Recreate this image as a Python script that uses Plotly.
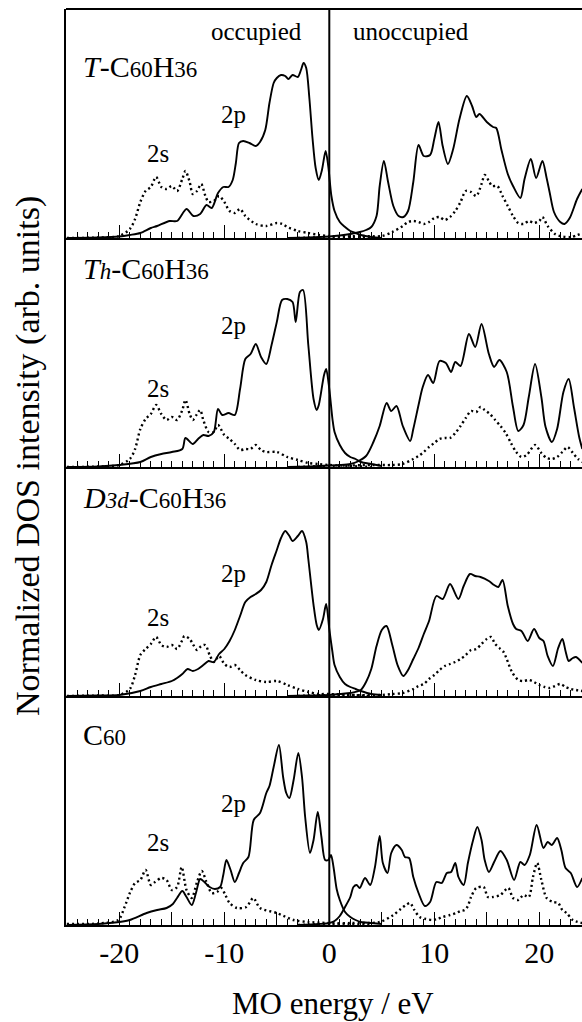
import plotly.graph_objects as go
from plotly.subplots import make_subplots

# ---------------- data (energies in eV, intensities in arb. units) ----------------
# Panel 1: T-C60H36
t_p_occ_e = [-25, -22, -20, -19, -18, -17, -16.4, -15.2, -14.5, -13.6, -12.95, -12.3, -11.7, -11.2, -10.6, -10.1, -9.6, -9.2, -8.9, -8.6, -8.2, -7.6, -7.0, -6.6, -6.1, -5.7, -5.3, -5.0, -4.6, -4.2, -3.9, -3.5, -3.0, -2.7, -2.45, -2.2, -1.9, -1.6, -1.3, -1.0, -0.7, -0.35, -0.1, 0.2, 0.5, 1.0, 1.5, 2.0, 2.5, 3.0, 4.0, 5.0]
t_p_occ_i = [0, 0.5, 1.5, 3, 5, 10, 12, 17, 17, 29, 22, 24, 33, 30, 45, 51, 51, 58, 75, 95, 97, 95, 92, 96, 108, 135, 155, 160, 163, 162, 159, 163, 161, 168, 175, 170, 140, 100, 70, 58, 68, 87, 72, 42, 27, 16, 11, 7, 5, 3, 1, 0]
t_p_unocc_e = [-4, -2, 0, 1, 2, 2.9, 3.5, 4.0, 4.5, 4.8, 5.2, 5.6, 6.1, 6.6, 7.05, 7.5, 8.0, 8.5, 9.0, 9.6, 10.0, 10.4, 10.8, 11.3, 11.8, 12.4, 13.1, 13.6, 14.0, 14.3, 15.0, 15.6, 15.9, 16.4, 17.0, 17.5, 18.2, 18.6, 19.2, 19.7, 20.3, 20.7, 21.0, 21.4, 22.0, 22.4, 22.9, 23.6, 24.1]
t_p_unocc_i = [0, 0.5, 1.5, 2.5, 4, 6, 8, 11, 22, 52, 77, 56, 32, 22, 21, 27, 56, 93, 82, 83, 99, 116, 92, 74, 89, 119, 142, 132, 121, 124, 116, 111, 110, 88, 64, 52, 40, 59, 79, 60, 77, 60, 45, 26, 16, 14, 20, 39, 49]
t_s_occ_e = [-25, -22, -20, -19, -18.5, -18, -17.5, -17, -16.5, -16, -15.5, -15, -14.5, -14, -13.7, -13.3, -13, -12.6, -12.2, -11.8, -11.5, -11, -10.5, -10, -9.5, -9, -8.5, -8, -7, -6, -5, -4.5, -4, -3, -2, -1, 0, 2, 4]
t_s_occ_i = [0, 0.5, 2, 9, 19, 36, 47, 51, 61, 51, 49, 52, 47, 59, 67, 56, 44, 47, 54, 42, 36, 37, 42, 36, 27, 25, 29, 22, 14, 12, 15, 14, 11, 7, 5, 3, 2, 1, 0]
t_s_unocc_e = [-3, 0, 3, 5, 6, 7, 7.5, 8, 8.5, 9, 9.5, 10, 10.5, 11, 11.5, 12, 12.5, 13, 13.5, 14, 14.5, 14.8, 15.2, 15.5, 16, 16.5, 17, 17.5, 18, 18.5, 19, 19.5, 20, 20.3, 20.8, 21.5, 22, 23, 24.1]
t_s_unocc_i = [0, 1, 2, 2, 6, 12, 16, 17, 16, 14, 16, 20, 21, 18, 21, 27, 36, 47, 46, 42, 54, 63, 57, 52, 52, 42, 32, 22, 15, 14, 17, 15, 17, 21, 12, 4, 2, 1, 5]

# Panel 2: Th-C60H36
th_p_occ_e = [-25, -22, -20, -18, -17, -16, -15, -14, -13.7, -13, -12.5, -12, -11.5, -11, -10.6, -10.2, -9.6, -9, -8.5, -8, -7.5, -7, -6.5, -6, -5.5, -5, -4.5, -4, -3.5, -3.2, -2.8, -2.5, -2, -1.5, -1.2, -1, -0.5, -0.3, 0, 0.3, 0.5, 1, 1.5, 2, 2.5, 3, 4, 5]
th_p_occ_i = [0, 0.5, 2, 5, 10, 13, 15, 18, 29, 23, 28, 32, 31, 35, 58, 52, 54, 52, 78, 108, 113, 123, 110, 103, 122, 145, 167, 168, 165, 145, 175, 177, 122, 68, 57, 62, 92, 98, 78, 48, 35, 22, 14, 10, 8, 5, 3, 1]
th_p_unocc_e = [-4, -2, 0, 1, 2, 2.6, 3.5, 4.2, 4.8, 5.46, 5.9, 6.4, 7.0, 7.7, 8.0, 8.5, 8.9, 9.4, 9.9, 10.5, 11.1, 11.6, 12.0, 12.5, 13.3, 13.9, 14.5, 15.2, 15.7, 16.2, 16.9, 17.5, 18.0, 18.5, 19.0, 19.6, 20.2, 20.6, 21.2, 21.7, 22.3, 22.8, 23.3, 23.8, 24.1]
th_p_unocc_i = [0, 0.5, 1.5, 2, 3, 5, 11, 25, 41, 64, 56, 61, 41, 26, 38, 62, 80, 92, 84, 106, 104, 95, 105, 101, 133, 120, 143, 113, 100, 107, 95, 60, 36, 42, 70, 103, 70, 40, 25, 38, 75, 88, 60, 30, 18]
th_s_occ_e = [-25, -22, -20, -19, -18.5, -18, -17.5, -17, -16.5, -16, -15.5, -15, -14.5, -14, -13.7, -13.3, -13, -12.6, -12.3, -12, -11.5, -11, -10.6, -10, -9.5, -9, -8.5, -8, -7.5, -7, -6.5, -6, -5, -4, -3, -2, -1, 0, 2, 4]
th_s_occ_i = [0, 0.5, 2, 8, 18, 38, 48, 53, 62, 53, 47, 50, 47, 57, 67, 53, 47, 53, 57, 47, 35, 35, 42, 32, 28, 23, 17, 18, 18, 22, 17, 15, 15, 10, 7, 4, 3, 2, 1, 0]
th_s_unocc_e = [-3, 0, 4, 6, 7, 8, 8.5, 9, 9.5, 10, 10.5, 11, 11.5, 12, 12.5, 13, 13.5, 14, 14.4, 14.8, 15.3, 15.8, 16.3, 16.8, 17.3, 17.8, 18.3, 18.8, 19.6, 20.2, 20.7, 21.2, 21.7, 22.2, 22.7, 23.2, 23.7, 24.1]
th_s_unocc_i = [0, 1, 2, 2, 3, 8, 11, 15, 20, 24, 28, 29, 29, 34, 41, 49, 56, 55, 60, 57, 53, 47, 41, 34, 24, 15, 10, 12, 22, 14, 9, 8, 10, 15, 20, 14, 8, 5]

# Panel 3: D3d-C60H36
d_p_occ_e = [-25, -22, -20, -18, -17, -16, -15, -14.5, -14, -13.5, -13, -12.5, -12, -11.5, -11, -10.5, -10, -9.5, -9, -8.5, -8, -7.5, -7, -6.5, -6, -5.5, -5, -4.6, -4.2, -3.8, -3.5, -3, -2.6, -2.2, -2, -1.5, -1.2, -1, -0.6, -0.3, 0, 0.3, 0.5, 1, 1.5, 2, 2.5, 3, 4, 5]
d_p_occ_i = [0, 0.5, 1, 5, 9, 12, 15, 18, 22, 27, 25, 27, 31, 35, 34, 42, 47, 55, 66, 80, 94, 99, 102, 106, 114, 131, 146, 158, 165, 160, 155, 160, 165, 154, 137, 91, 71, 66, 77, 92, 67, 44, 31, 19, 12, 9, 7, 5, 2, 1]
d_p_unocc_e = [-4, -2, 0, 1, 2, 3, 3.5, 4, 4.5, 5, 5.45, 6, 6.5, 7.05, 7.5, 8, 8.5, 9, 9.5, 10.2, 10.8, 11.5, 12.3, 12.8, 13.4, 13.9, 14.4, 15.2, 15.7, 16.1, 16.5, 17.0, 17.5, 17.8, 18.3, 18.9, 19.5, 20.0, 20.4, 20.8, 21.3, 21.8, 22.2, 22.5, 22.8, 23.2, 23.5, 24.1]
d_p_unocc_i = [0, 0.5, 1, 2, 3, 6, 14, 27, 50, 66, 70, 51, 31, 20, 26, 37, 48, 62, 75, 100, 97, 112, 97, 110, 122, 120, 119, 115, 111, 109, 116, 90, 72, 67, 65, 55, 67, 58, 55, 40, 30, 48, 57, 45, 35, 38, 39, 33]
d_s_occ_e = [-25, -22, -20, -19, -18.5, -18, -17.5, -17, -16.5, -16, -15.5, -15, -14.5, -14, -13.8, -13.3, -13, -12.6, -12.2, -11.8, -11.4, -11, -10.5, -10, -9.5, -9, -8.5, -8, -7, -6, -5, -4, -3, -2, -1, 0, 2, 4]
d_s_occ_i = [0, 0.5, 1, 7, 21, 41, 47, 52, 59, 51, 49, 51, 47, 56, 60, 57, 52, 46, 50, 51, 41, 34, 40, 32, 29, 31, 26, 21, 16, 14, 15, 11, 7, 4, 2, 2, 1, 0]
d_s_unocc_e = [-3, 0, 5, 6, 7, 8, 8.5, 9, 9.5, 10, 10.5, 11, 11.5, 12, 12.5, 13, 13.5, 14, 14.5, 15, 15.4, 15.8, 16.2, 16.6, 16.9, 17.4, 18, 18.5, 19, 19.5, 20, 20.5, 21, 21.5, 22, 22.5, 23, 23.5, 24.1]
d_s_unocc_i = [0, 1, 1, 2, 3, 7, 10, 12, 17, 21, 26, 30, 32, 34, 37, 41, 46, 47, 52, 57, 59, 52, 48, 44, 37, 24, 16, 15, 16, 14, 11, 9, 8, 10, 12, 9, 7, 6, 5]

# Panel 4: C60
c_p_occ_e = [-25, -22, -20, -19, -17.4, -16.4, -15.5, -14.9, -14.5, -14.0, -13.6, -13.1, -12.7, -12.3, -11.9, -11.4, -10.9, -10.4, -10.1, -9.8, -9.4, -9.0, -8.6, -8.2, -7.7, -7.2, -6.6, -6.0, -5.7, -5.3, -4.8, -4.4, -4.1, -3.8, -3.4, -2.95, -2.6, -2.3, -1.84, -1.5, -1.1, -0.75, -0.4, -0.1, 0.16, 0.4, 0.7, 1.0, 1.5, 2.0, 2.5, 3.0, 4.0, 5.0]
c_p_occ_i = [0, 1, 3, 5, 12, 15, 17, 21, 27, 34, 28, 20, 32, 46, 43, 38, 36, 38, 50, 65, 55, 43, 52, 62, 68, 105, 112, 132, 139, 158, 180, 148, 132, 127, 145, 172, 148, 108, 72, 85, 113, 88, 65, 65, 70, 58, 36, 25, 13, 8, 5, 3, 2, 1]
c_p_unocc_e = [-3, -1, 0, 0.5, 1.0, 1.5, 2.0, 2.3, 2.6, 2.9, 3.4, 3.9, 4.35, 4.8, 5.1, 5.55, 5.9, 6.4, 6.9, 7.2, 7.6, 8.0, 8.5, 9.1, 9.6, 10.2, 10.7, 11.2, 11.6, 12.0, 12.3, 12.8, 13.2, 13.7, 14.1, 14.5, 14.8, 15.2, 15.7, 16.3, 16.9, 17.6, 18.2, 18.6, 19.1, 19.75, 20.4, 20.8, 21.2, 21.7, 22.1, 22.5, 23.0, 23.6, 24.1]
c_p_unocc_i = [0, 1, 2, 4, 9, 18, 28, 38, 40, 37, 47, 40, 58, 89, 62, 52, 72, 80, 75, 68, 67, 48, 32, 19, 23, 43, 42, 52, 53, 62, 48, 40, 62, 85, 98, 85, 65, 53, 63, 74, 65, 45, 63, 60, 70, 100, 77, 83, 80, 87, 75, 57, 52, 38, 47]
c_s_occ_e = [-25, -22, -20.1, -19.5, -19.0, -18.5, -18.0, -17.5, -17.0, -16.6, -16.0, -15.5, -15.0, -14.5, -14.06, -13.6, -13.1, -12.6, -12.15, -11.7, -11.2, -10.7, -10.3, -9.9, -9.5, -8.8, -7.9, -7.24, -6.6, -5.0, -3.4, -2, -0.2, 2, 4]
c_s_occ_i = [1, 1.5, 5, 18, 32, 42, 45, 55, 40, 43, 47, 45, 35, 38, 58, 35, 27, 43, 54, 43, 32, 33, 37, 30, 22, 17, 18, 27, 17, 12, 5, 3, 2, 1, 0]
c_s_unocc_e = [-3, 0, 2, 4.8, 6.1, 6.8, 7.3, 7.7, 8.1, 8.6, 9.2, 9.8, 10.3, 10.8, 11.5, 12.1, 12.5, 12.9, 13.2, 13.5, 14.0, 14.7, 15.1, 15.6, 16.3, 17.05, 17.5, 18.0, 18.5, 19.0, 19.4, 19.8, 20.2, 20.7, 21.3, 21.8, 22.2, 22.6, 23.2, 24.1]
c_s_unocc_i = [0, 1, 2, 3, 10, 16, 20, 22, 15, 8, 6, 5, 6, 8, 10, 12, 14, 15, 19, 28, 37, 38, 28, 28, 30, 37, 27, 25, 30, 28, 48, 62, 45, 27, 23, 22, 15, 12, 5, 2]

major_ticks = [-20, -15, -10, -5, 0, 5, 10, 15, 20]
major_labels = ["-20", "", "-10", "", "0", "", "10", "", "20"]

panels = [
    dict(p_occ=(t_p_occ_e, t_p_occ_i), p_un=(t_p_unocc_e, t_p_unocc_i),
         s_occ=(t_s_occ_e, t_s_occ_i), s_un=(t_s_unocc_e, t_s_unocc_i)),
    dict(p_occ=(th_p_occ_e, th_p_occ_i), p_un=(th_p_unocc_e, th_p_unocc_i),
         s_occ=(th_s_occ_e, th_s_occ_i), s_un=(th_s_unocc_e, th_s_unocc_i)),
    dict(p_occ=(d_p_occ_e, d_p_occ_i), p_un=(d_p_unocc_e, d_p_unocc_i),
         s_occ=(d_s_occ_e, d_s_occ_i), s_un=(d_s_unocc_e, d_s_unocc_i)),
    dict(p_occ=(c_p_occ_e, c_p_occ_i), p_un=(c_p_unocc_e, c_p_unocc_i),
         s_occ=(c_s_occ_e, c_s_occ_i), s_un=(c_s_unocc_e, c_s_unocc_i)),
]

SERIF = "Liberation Serif"
W, H = 582, 1022
L, R, T, B = 66, 0, 9, 97

fig = make_subplots(rows=4, cols=1, vertical_spacing=0)

for r, pnl in enumerate(panels, start=1):
    for key in ("s_occ", "s_un"):
        e, v = pnl[key]
        fig.add_trace(go.Scatter(x=e, y=v, mode="lines",
                                 line=dict(color="black", width=2.4, dash="2px,3px", shape="spline", smoothing=0.8),
                                 showlegend=False, hoverinfo="skip"), row=r, col=1)
    for key in ("p_occ", "p_un"):
        e, v = pnl[key]
        fig.add_trace(go.Scatter(x=e, y=v, mode="lines",
                                 line=dict(color="black", width=1.9, shape="spline", smoothing=0.8),
                                 showlegend=False, hoverinfo="skip"), row=r, col=1)
    fig.update_xaxes(row=r, col=1, range=[-25.08, 24.07], showline=True, linewidth=2, linecolor="black",
                     mirror=False, showgrid=False, zeroline=False, automargin=False,
                     tickmode="array", tickvals=major_ticks, ticktext=major_labels,
                     ticks="inside", ticklen=13, tickwidth=1, tickcolor="black",
                     minor=dict(tickmode="linear", tick0=0, dtick=1, ticks="inside", ticklen=6,
                                tickwidth=1, tickcolor="black", showgrid=False),
                     showticklabels=(r == 4),
                     tickfont=dict(family=SERIF, size=30, color="black"))
    fig.update_yaxes(row=r, col=1, range=[0, 229], showline=True, linewidth=2, linecolor="black",
                     showgrid=False, zeroline=False, ticks="", showticklabels=False, automargin=False)


def px(x):
    return (x - L) / (W - L - R)


def py(y):
    return (H - B - y) / (H - T - B)


annots = []
sm = "font-size:23px"
labels = [
    ("<i>T</i>-C<span style='%s'>60</span>H<span style='%s'>36</span>" % (sm, sm), 66),
    ("<i>T<span style='%s'>h</span></i>-C<span style='%s'>60</span>H<span style='%s'>36</span>" % (sm, sm, sm), 268),
    ("<i>D<span style='%s'>3d</span></i>-C<span style='%s'>60</span>H<span style='%s'>36</span>" % (sm, sm, sm), 497),
    ("C<span style='%s'>60</span>" % sm, 734),
]
for txt, yc in labels:
    annots.append(dict(text=txt, x=px(81), y=py(yc), xref="paper", yref="paper", xanchor="left", yanchor="middle",
                       showarrow=False, font=dict(family=SERIF, size=30, color="black")))
for yc in (114, 325, 573, 803):
    annots.append(dict(text="2p", x=px(233), y=py(yc), xref="paper", yref="paper", xanchor="center", yanchor="middle",
                       showarrow=False, font=dict(family=SERIF, size=25, color="black")))
for yc in (153, 388, 617, 842):
    annots.append(dict(text="2s", x=px(158), y=py(yc), xref="paper", yref="paper", xanchor="center", yanchor="middle",
                       showarrow=False, font=dict(family=SERIF, size=25, color="black")))
annots.append(dict(text="occupied", x=px(256), y=py(31), xref="paper", yref="paper", xanchor="center", yanchor="middle",
                   showarrow=False, font=dict(family=SERIF, size=25, color="black")))
annots.append(dict(text="unoccupied", x=px(411), y=py(31), xref="paper", yref="paper", xanchor="center", yanchor="middle",
                   showarrow=False, font=dict(family=SERIF, size=25, color="black")))
annots.append(dict(text="MO energy / eV", x=px(333), y=py(1003), xref="paper", yref="paper", xanchor="center",
                   yanchor="middle", showarrow=False, font=dict(family=SERIF, size=31, color="black")))
annots.append(dict(text="Normalized DOS intensity (arb. units)", x=px(28), y=py(456), xref="paper", yref="paper",
                   xanchor="center", yanchor="middle", textangle=-90,
                   showarrow=False, font=dict(family=SERIF, size=34, color="black")))

shapes = [
    dict(type="line", xref="paper", yref="paper", x0=0, x1=1, y0=1, y1=1, line=dict(color="black", width=2)),
    dict(type="line", xref="x", yref="paper", x0=0, x1=0, y0=0, y1=1, line=dict(color="black", width=2)),
]

fig.update_layout(width=W, height=H, margin=dict(l=L, r=R, t=T, b=B, autoexpand=False),
                  paper_bgcolor="white", plot_bgcolor="white",
                  annotations=annots, shapes=shapes, showlegend=False,
                  font=dict(family=SERIF, color="black"))

fig.write_html("out.html", config={"displayModeBar": False},
               post_script="document.body.style.margin='0';document.body.style.overflow='hidden';")
